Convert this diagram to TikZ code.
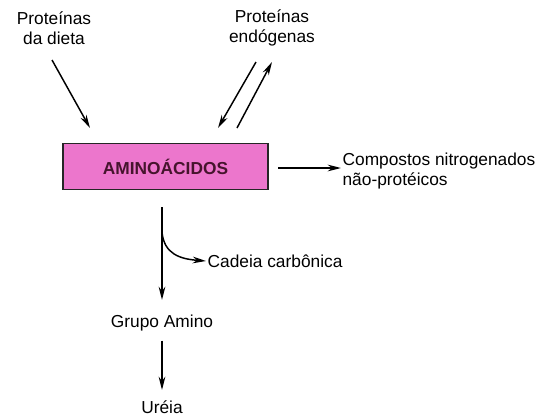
\documentclass[tikz,border=0pt]{standalone}
\usepackage{fontspec}
\setmainfont{Liberation Sans}
\usetikzlibrary{arrows.meta,positioning}
\definecolor{aminopink}{RGB}{236,118,204}
\definecolor{aminotext}{RGB}{70,20,45}

\begin{document}
\begin{tikzpicture}[x=0.75pt,y=-0.75pt,every node/.style={font=\fontsize{13}{15}\selectfont},
  flow/.style={line width=1.1pt,-{Stealth[length=10pt,width=5pt]}},
  lbl/.style={align=center,inner sep=1pt}]
\useasboundingbox (0,0) rectangle (537,418);
\node[draw=black!85,line width=1.4pt,fill=aminopink,
  minimum width=153.75pt,minimum height=34.5pt,inner sep=0pt] (amino) at (165.5,166.5)
  {\textbf{\color{aminotext}AMINOÁCIDOS}};
\node[lbl] (diet) at (54,28) {Proteínas\\da dieta};
\node[lbl] (endo) at (272,28) {Proteínas\\endógenas};
\node[lbl,align=left,anchor=west] (nonprot) at (341,171) {Compostos nitrogenados\\não-protéicos};
\node[lbl,anchor=west] (carbon) at (206,261) {Cadeia carbônica};
\node[lbl] (grupo) at (162,323) {Grupo Amino};
\node[lbl] (ureia) at (162,407) {Uréia};
\coordinate (dietA) at (52,60);   \coordinate (dietB) at (90,128);
\coordinate (endoA) at (256,62);  \coordinate (endoB) at (218,128);
\coordinate (endoC) at (237,128); \coordinate (endoD) at (272,62);
\coordinate (outA) at (278,168);
\coordinate (downA) at (162,207);
\coordinate (split) at (162,232);
\coordinate (ureiaT) at (162,390);
% arrows into the box
\draw[flow] (dietA) -- (dietB);
\draw[flow] (endoA) -- (endoB);
\draw[flow] (endoC) -- (endoD);
\draw[flow] (outA) -- (nonprot.west |- outA);
% breakdown
\draw[flow,shorten >=10pt] (downA) -- (grupo.north);
\draw[flow] (split) .. controls (164,254) and (180,259) .. (carbon.west);
\draw[flow,shorten <=6pt] (grupo.south) -- (ureiaT);
\end{tikzpicture}
\end{document}
